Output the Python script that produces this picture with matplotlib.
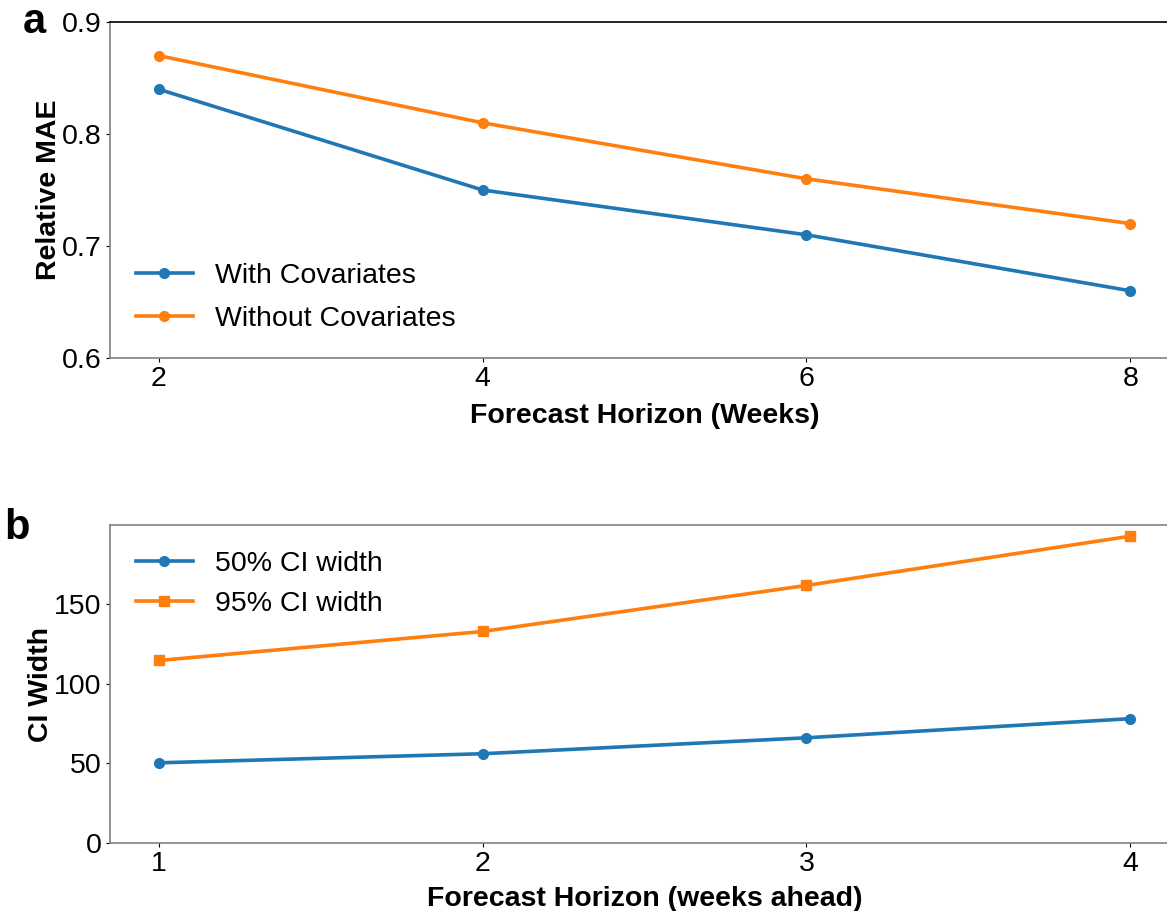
import matplotlib
matplotlib.use("Agg")
import matplotlib.pyplot as plt

plt.rcParams['font.family'] = ['Liberation Sans', 'DejaVu Sans']

# Panel a data
horizon_a = [2, 4, 6, 8]
mae_with = [0.84, 0.75, 0.71, 0.66]
mae_without = [0.87, 0.81, 0.76, 0.72]

# Panel b data
horizon_b = [1, 2, 3, 4]
ci50 = [50.3, 56.0, 66.0, 78.0]
ci95 = [114.5, 132.7, 161.6, 192.5]

W, H = 1167, 911
fig = plt.figure(figsize=(W / 100, H / 100), dpi=100)

def px_axes(left, top, right, bottom):
    return fig.add_axes([left / W, 1 - bottom / H, (right - left) / W, (bottom - top) / H])

blue = '#1f77b4'
orange = '#ff7f0e'
fs = 20.5
lw = 2.6
ms = 7

# Panel a
ax1 = px_axes(110, 22, 1179, 358)
ax1.plot(horizon_a, mae_with, '-o', color=blue, lw=lw, ms=ms, label='With Covariates')
ax1.plot(horizon_a, mae_without, '-o', color=orange, lw=lw, ms=ms, label='Without Covariates')
ax1.set_xlim(1.7, 8.3)
ax1.set_ylim(0.6, 0.9)
ax1.set_xticks(horizon_a)
ax1.set_yticks([0.6, 0.7, 0.8, 0.9])
ax1.set_xlabel('Forecast Horizon (Weeks)', fontsize=fs, fontweight='bold', labelpad=8)
ax1.set_ylabel('Relative MAE', fontsize=fs, fontweight='bold', labelpad=0)
ax1.legend(loc='lower left', frameon=False, fontsize=fs, handlelength=2.0,
           handletextpad=0.8, labelspacing=0.6, bbox_to_anchor=(0.0, 0.0))
ax1.text(-0.06, 1.0, 'a', transform=ax1.transAxes, fontsize=30, fontweight='bold',
         ha='right', va='center')
for s in ['left', 'bottom', 'right']:
    ax1.spines[s].set_color('#808080')
ax1.spines['top'].set_color('black')

# Panel b
ax2 = px_axes(110, 525, 1179, 843)
ax2.plot(horizon_b, ci50, '-o', color=blue, lw=lw, ms=ms, label='50% CI width')
ax2.plot(horizon_b, ci95, '-s', color=orange, lw=lw, ms=ms, label='95% CI width')
ax2.set_xlim(0.85, 4.15)
ax2.set_ylim(0, 199.5)
ax2.set_xticks(horizon_b)
ax2.set_yticks([0, 50, 100, 150])
ax2.set_xlabel('Forecast Horizon (weeks ahead)', fontsize=fs, fontweight='bold', labelpad=6)
ax2.set_ylabel('CI Width', fontsize=fs, fontweight='bold', labelpad=0)
ax2.legend(loc='upper left', frameon=False, fontsize=fs, handlelength=2.0,
           handletextpad=0.8, labelspacing=0.5)
ax2.text(-0.075, 0.99, 'b', transform=ax2.transAxes, fontsize=30, fontweight='bold',
         ha='right', va='center')
for s in ax2.spines.values():
    s.set_color('#808080')

for ax in (ax1, ax2):
    ax.tick_params(labelsize=fs, length=3, width=0.8, pad=3)
    for s in ax.spines.values():
        s.set_linewidth(1.2)

fig.savefig('out.png', dpi=100)
